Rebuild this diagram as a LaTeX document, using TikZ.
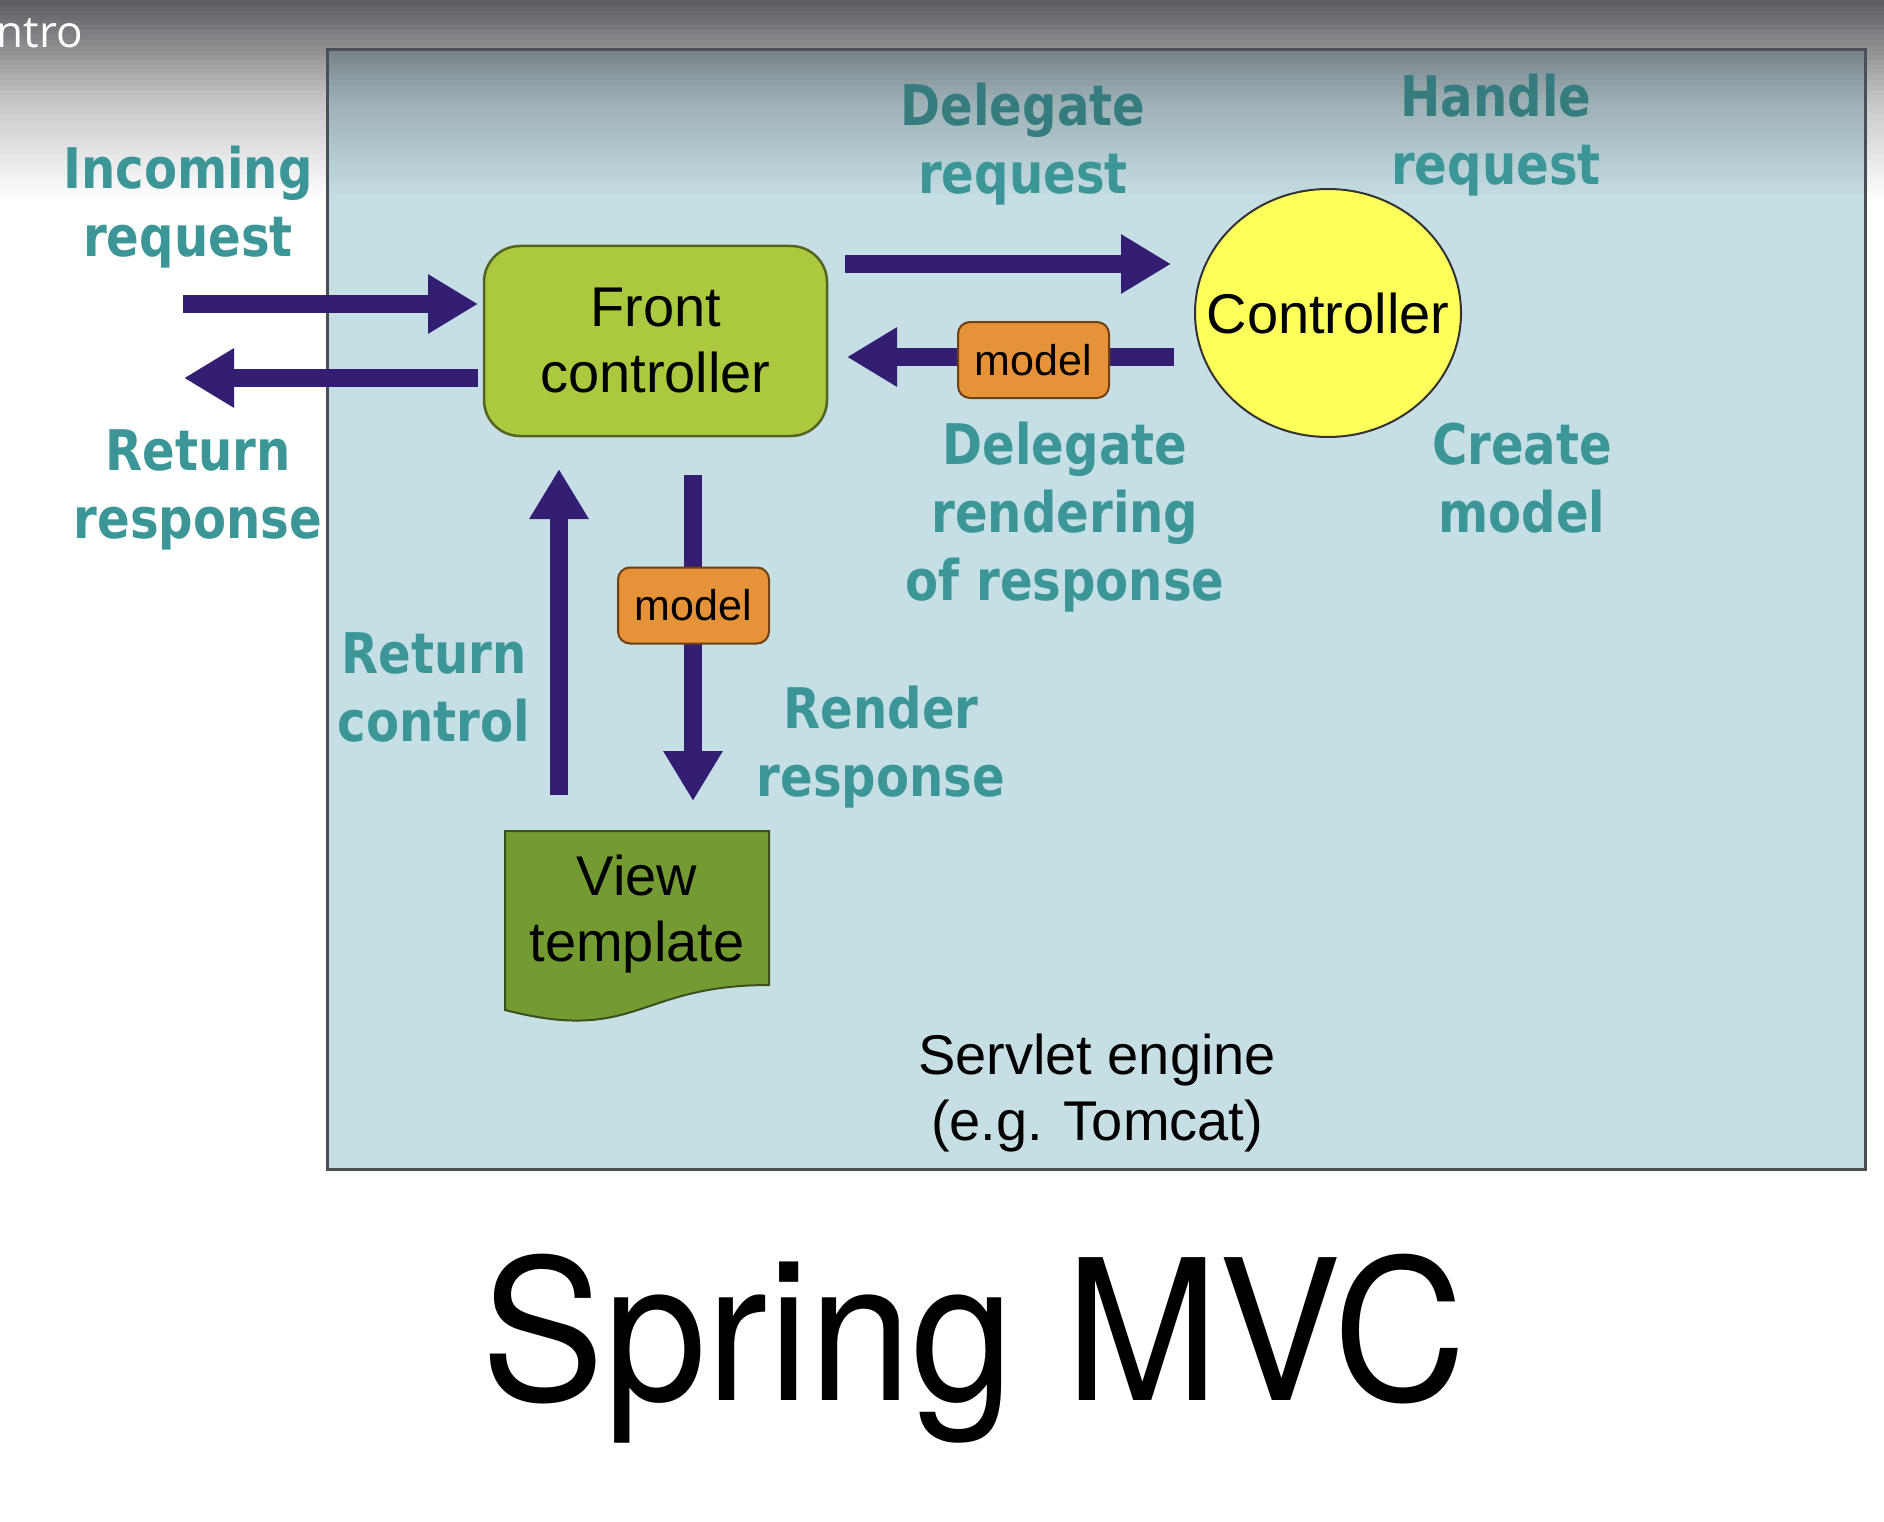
\documentclass[tikz,border=0pt]{standalone}
\usepackage{fontspec}
\setmainfont{Liberation Sans}
\newfontfamily\lblfont{DejaVu Sans}[FakeStretch=0.86]
\newfontfamily\titlefont{TeX Gyre Heros}[FakeStretch=0.94]
\newfontfamily\introfont{Open Sans}
\usetikzlibrary{arrows.meta,shapes.geometric}

\definecolor{boxbg}{RGB}{197,223,228}
\definecolor{shadegray}{RGB}{50,50,56}
\definecolor{boxline}{RGB}{75,78,84}
\definecolor{fcgreen}{RGB}{170,201,62}
\definecolor{fcline}{RGB}{85,100,35}
\definecolor{vtgreen}{RGB}{116,155,50}
\definecolor{vtline}{RGB}{60,80,30}
\definecolor{modelorange}{RGB}{230,146,56}
\definecolor{modelline}{RGB}{110,65,20}
\definecolor{ctrlyellow}{RGB}{255,255,92}
\definecolor{arrowpurple}{RGB}{52,30,115}
\definecolor{lblteal}{RGB}{60,150,152}
\definecolor{lbltealdark}{RGB}{54,124,127}

\tikzset{
  flow/.style={draw=arrowpurple, line width=18pt, -{Triangle[width=56pt,length=50pt]}},
  lbl/.style={font=\lblfont\bfseries\fontsize{56}{68}\selectfont, text=lblteal, align=center, inner sep=0pt},
  blacktext/.style={font=\fontsize{56}{66}\selectfont, align=center, inner sep=0pt},
  fcbox/.style={draw=fcline, fill=fcgreen, line width=2.5pt, rounded corners=36pt, minimum width=343pt, minimum height=190pt, blacktext},
  modelbox/.style={draw=modelline, fill=modelorange, line width=2pt, rounded corners=12pt, minimum width=151pt, minimum height=76pt, inner sep=0pt, font=\fontsize{43}{50}\selectfont},
  ctrlnode/.style={ellipse, draw=black!80, fill=ctrlyellow, line width=2pt, minimum width=266pt, minimum height=248pt, inner sep=0pt},
  enginebox/.style={fill=boxbg, minimum width=1538pt, minimum height=1119pt, inner sep=0pt, outer sep=0pt}
}

\begin{document}
\begin{tikzpicture}[x=1pt,y=-1pt]
\useasboundingbox (0,0) rectangle (1884,1522);
\fill[white] (0,0) rectangle (1884,1522);
% top gradient of the slide (solid strips)
\foreach \i in {0,...,39}{
  \pgfmathsetmacro\yy{5*\i+2.5}
  \pgfmathsetmacro\pp{(\yy<100) ? (80-0.52*\yy) : (0.28*(200-\yy))}
  \fill[shadegray!\pp!white] (0,5*\i) rectangle (1884,5*\i+5.6);
}

% servlet engine box
\node[enginebox] (engine) at (1096,609.5) {};
\foreach \i in {10,...,39}{
  \pgfmathsetmacro\yy{5*\i+2.5}
  \pgfmathsetmacro\pp{(\yy<100) ? (80-0.52*\yy) : (0.28*(200-\yy))}
  \fill[shadegray!\pp!boxbg] (328,5*\i) rectangle (1864,5*\i+5.6);
}
\draw[boxline, line width=3pt] (engine.north west) rectangle (engine.south east);

% coordinates for arrow ends
\coordinate (inS) at (183,304);
\coordinate (inE) at (478,304);
\coordinate (retS) at (478,378);
\coordinate (retE) at (184,378);
\coordinate (delS) at (845,264);
\coordinate (delE) at (1171,264);
\coordinate (backS) at (1174,357);
\coordinate (backE) at (847,357);
\coordinate (rcS) at (559,795);
\coordinate (rcE) at (559,469);
\coordinate (rrS) at (693,475);
\coordinate (rrE) at (693,801);

% arrows
\draw[flow] (inS) -- (inE);
\draw[flow] (retS) -- (retE);
\draw[flow] (delS) -- (delE);
\draw[flow] (backS) -- (backE);
\draw[flow] (rcS) -- (rcE);
\draw[flow] (rrS) -- (rrE);

% main nodes
\node[fcbox] (fc) at (655.5,341) {Front\\controller};
\node[ctrlnode] (ctrl) at (1328,313) {};
\node[blacktext] (ctrltext) at (ctrl) {Controller};
\node[modelbox] (m1) at (1033.5,360) {model};
\node[modelbox] (m2) at (693.5,605.5) {model};

% view template (document shape)
\draw[draw=vtline, fill=vtgreen, line width=2pt]
  (505,831) -- (769,831) -- (769,985)
  .. controls (637,985) and (637,1044) .. (505,1010) -- cycle;
\node[blacktext] (vt) at (637,914) {View\\template};

% labels
\node[lbl] (linc) at (188,207) {Incoming\\request};
\node[lbl] (lret) at (198,490) {Return\\response};
\node[lbl] (ldel) at (1023,144) {\textcolor{lbltealdark}{Delegate}\\request};
\node[lbl] (lhand) at (1496,135) {\textcolor{lbltealdark}{Handle}\\request};
\node[lbl] (lrend) at (1065,517) {Delegate\\rendering\\of response};
\node[lbl] (lcreate) at (1522,478) {Create\\model};
\node[lbl] (lretc) at (434,687) {Return\\control};
\node[lbl] (lrender) at (881,747) {Render\\response};

\node[blacktext] (servlet) at (1097,1093) {Servlet engine\\(e.g. Tomcat)};

\node[font=\titlefont\fontsize{196}{200}\selectfont, anchor=base, inner sep=0pt] (title) at (974,1400) {Spring MVC};

\node[font=\introfont\fontsize{44}{50}\selectfont, text=white, anchor=base east, inner sep=0pt] (intro) at (83,48) {ntro};
\end{tikzpicture}
\end{document}
